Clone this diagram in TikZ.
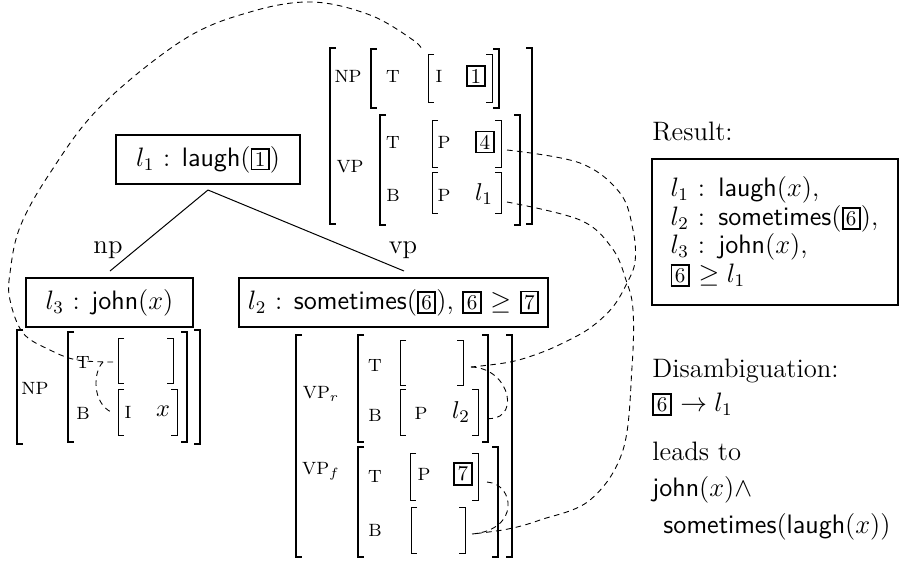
\documentclass[tikz,border=0pt]{standalone}
\newcommand{\bnum}[1]{{\setlength{\fboxsep}{1.1pt}\setlength{\fboxrule}{0.85pt}\fbox{\fontsize{9.5}{10}\selectfont #1}}}
\newcommand{\avmbr}[5]{%
  \draw[#5] (#1+6,#3) -- (#1,#3) -- (#1,#4) -- (#1+6,#4);
  \draw[#5] (#2-6,#3) -- (#2,#3) -- (#2,#4) -- (#2-6,#4);}
\tikzset{
  tbox/.style={draw, line width=0.9pt, minimum height=22pt, inner sep=0pt},
  avm/.style={font=\fontsize{8}{9}\selectfont, inner sep=0pt},
  avv/.style={font=\fontsize{11}{12}\selectfont, inner sep=0pt},
  bthick/.style={line width=0.9pt},
  bmid/.style={line width=0.7pt},
  bthin/.style={line width=0.45pt},
  dsh/.style={dash pattern=on 2.5pt off 2pt, line width=0.4pt},
  edge/.style={line width=0.45pt},
  lbl/.style={inner sep=0pt},
}
\begin{document}
\begin{tikzpicture}[x=0.45pt, y=-0.45pt, font=\fontsize{12}{14}\selectfont]
\useasboundingbox (0,0) rectangle (901,560);

% ---------- tree ----------
\node[tbox, minimum width=82.8pt] (l1) at (208,159.5) {$l_1$ : \textsf{laugh}(\bnum{1})};
\node[tbox, minimum width=75.2pt] (l3) at (109.5,302.5) {$l_3$ : \textsf{john}($x$)};
\node[tbox, minimum width=139pt] (l2) at (393.5,302.5) {$l_2$ : \textsf{sometimes}(\bnum{6}), \bnum{6} $\geq$ \bnum{7}};
\coordinate (rt) at (208,190);
\coordinate (npe) at (110,271);
\coordinate (vpe) at (404,271);
\draw[edge] (rt) -- (npe);
\draw[edge] (rt) -- (vpe);
\node[lbl] (np) at (108,250) {np};
\node[lbl] (vp) at (403,250) {vp};

% ---------- top AVM ----------
\avmbr{330}{532}{48}{224}{bthick}
\avmbr{371}{499}{49}{108}{bmid}
\avmbr{428}{492}{54}{102}{bthin}
\avmbr{380}{520}{115}{225}{bmid}
\avmbr{432}{501}{120}{167}{bthin}
\avmbr{432}{501}{172}{213}{bthin}
\node[avm] (a1) at (348,76) {NP};
\node[avm] (a2) at (393,76) {T};
\node[avm] (a3) at (439,76) {I};
\node[lbl] (a4) at (476,76) {\bnum{1}};
\node[avm] (a5) at (350,167) {VP};
\node[avm] (a6) at (393,142) {T};
\node[avm] (a7) at (444,142) {P};
\node[lbl] (a8) at (485,142) {\bnum{4}};
\node[avm] (a9) at (393,195) {B};
\node[avm] (a10) at (444,195) {P};
\node[avv] (a11) at (484,194) {$l_1$};

% ---------- left AVM ----------
\avmbr{17}{200}{330}{444}{bthick}
\avmbr{68}{187}{332}{442}{bmid}
\avmbr{118}{173}{338}{383}{bthin}
\avmbr{118}{177}{389}{435}{bthin}
\node[avm] (b1) at (35,388) {NP};
\node[avm] (b2) at (83,362) {T};
\node[avm] (b3) at (83,413) {B};
\node[avm] (b4) at (128,412) {I};
\node[avv] (b5) at (163,411) {$x$};

% ---------- VP AVM ----------
\avmbr{296}{512}{335}{557}{bthick}
\avmbr{358}{488}{335}{442}{bmid}
\avmbr{400}{463}{340}{385}{bthin}
\avmbr{400}{478}{389}{435}{bthin}
\avmbr{358}{498}{447}{557}{bmid}
\avmbr{410}{478}{453}{500}{bthin}
\avmbr{411}{465}{507}{553}{bthin}
\node[avm] (c1) at (321,394) {VP$_r$};
\node[avm] (c2) at (375,365) {T};
\node[avm] (c3) at (375,415) {B};
\node[avm] (c4) at (421,413) {P};
\node[avv] (c5) at (461,412) {$l_2$};
\node[avm] (c6) at (321,471) {VP$_f$};
\node[avm] (c7) at (375,476) {T};
\node[avm] (c8) at (424,474) {P};
\node[lbl] (c9) at (463,474) {\bnum{7}};
\node[avm] (c10) at (375,530) {B};

% ---------- dashed links ----------
\coordinate (tT) at (507,150);
\coordinate (tB) at (507,202);
\coordinate (tI) at (422,50);
\coordinate (lT) at (113,362);
\coordinate (lTs) at (103,362);
\coordinate (lB) at (111,412);
\coordinate (rT) at (471,367);
\coordinate (rB) at (483,418);
\coordinate (fT) at (487,482);
\coordinate (fB) at (472,534);

\draw[dsh] plot[smooth, tension=0.6] coordinates {(lT) (77,360) (50,350) (23,333) (10,300) (10,273) (20,227) (50,173) (100,107) (183,40) (250,12) (312,2) (370,15) (413,40) (tI)};
\draw[dsh] plot[smooth, tension=0.6] coordinates {(tT) (580,163) (620,193) (633,230) (635,262) (626,285) (612,308) (590,328) (565,342) (540,353) (510,362) (rT)};
\draw[dsh] plot[smooth, tension=0.6] coordinates {(tB) (580,220) (612,248) (626,280) (633,310) (632,367) (623,450) (590,500) (540,520) (508,529) (fB)};
\draw[dsh] (lTs) .. controls (93,372) and (92,402) .. (lB);
\draw[dsh] (rT) .. controls (512,368) and (522,425) .. (rB);
\draw[dsh] (fT) .. controls (515,484) and (520,530) .. (fB);

% ---------- right column ----------
\node[lbl, anchor=base west] (res) at (652,140) {Result:};
\node[draw, line width=0.9pt, minimum width=110.7pt, minimum height=65.7pt, text width=94pt, align=left, inner xsep=8pt, inner ysep=0pt, font=\fontsize{12}{12.8}\selectfont] (rbox) at (775,232)
  {$l_1$ : \textsf{laugh}($x$),\\ $l_2$ : \textsf{sometimes}(\bnum{6}),\\ $l_3$ : \textsf{john}($x$),\\ \bnum{6} $\geq l_1$};
\node[lbl, anchor=base west] (dis) at (652,377) {Disambiguation:};
\node[lbl, anchor=base west] (dis2) at (652,411) {\bnum{6} $\rightarrow l_1$};
\node[lbl, anchor=base west] (lead) at (652,460) {leads to};
\node[lbl, anchor=base west] (jn) at (652,496) {\textsf{john}($x$)$\wedge$};
\node[lbl, anchor=base west] (st) at (663,533) {\textsf{sometimes}(\textsf{laugh}($x$))};
\end{tikzpicture}
\end{document}
